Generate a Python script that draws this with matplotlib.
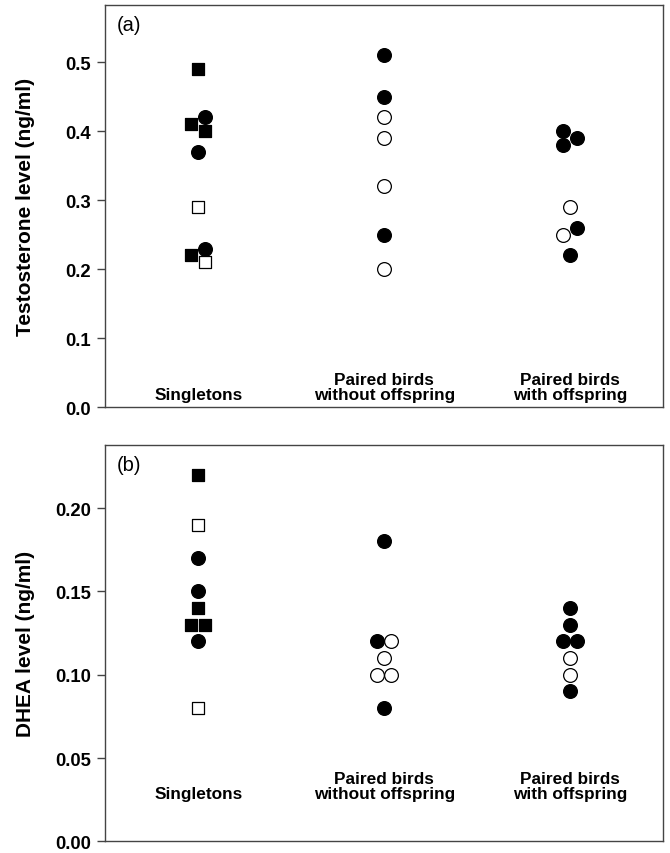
import numpy as np
import matplotlib
matplotlib.use("Agg")
import matplotlib.pyplot as plt

plt.rcParams["font.family"] = ["Liberation Sans", "DejaVu Sans"]

groups = ["Singletons", "Paired birds\nwithout offspring", "Paired birds\nwith offspring"]

# testosterone (ng/ml): group index, value, small horizontal offset, marker, filled
t_group = [0, 0, 0, 0, 0, 0, 0, 0, 0,
           1, 1, 1, 1, 1, 1, 1,
           2, 2, 2, 2, 2, 2, 2]
t_value = [0.49, 0.42, 0.41, 0.40, 0.37, 0.29, 0.23, 0.22, 0.21,
           0.51, 0.45, 0.42, 0.39, 0.32, 0.25, 0.20,
           0.40, 0.39, 0.38, 0.29, 0.26, 0.25, 0.22]
t_offset = [0, 1, -1, 1, 0, 0, 1, -1, 1,
            0, 0, 0, 0, 0, 0, 0,
            -1, 1, -1, 0, 1, -1, 0]
t_marker = ["s", "o", "s", "s", "o", "s", "o", "s", "s",
            "o", "o", "o", "o", "o", "o", "o",
            "o", "o", "o", "o", "o", "o", "o"]
t_filled = [1, 1, 1, 1, 1, 0, 1, 1, 0,
            1, 1, 0, 0, 0, 1, 0,
            1, 1, 1, 0, 1, 0, 1]

# DHEA (ng/ml)
d_group = [0, 0, 0, 0, 0, 0, 0, 0, 0,
           1, 1, 1, 1, 1, 1, 1,
           2, 2, 2, 2, 2, 2, 2]
d_value = [0.22, 0.19, 0.17, 0.15, 0.14, 0.13, 0.13, 0.12, 0.08,
           0.18, 0.12, 0.12, 0.11, 0.10, 0.10, 0.08,
           0.14, 0.13, 0.12, 0.12, 0.11, 0.10, 0.09]
d_offset = [0, 0, 0, 0, 0, -1, 1, 0, 0,
            0, -1, 1, 0, -1, 1, 0,
            0, 0, -1, 1, 0, 0, 0]
d_marker = ["s", "s", "o", "o", "s", "s", "s", "o", "s",
            "o", "o", "o", "o", "o", "o", "o",
            "o", "o", "o", "o", "o", "o", "o"]
d_filled = [1, 0, 1, 1, 1, 1, 1, 1, 0,
            1, 1, 0, 0, 0, 0, 1,
            1, 1, 1, 1, 0, 0, 1]

JIT = 0.038


def draw_panel(ax, grp, val, off, mk, filled, ylim, yticks, ylabel, tag, fmt, label_y):
    for g, v, o, m, f in zip(grp, val, off, mk, filled):
        size = 98 if m == "o" else 84
        ax.scatter(g + 1 + o * JIT, v, marker=m, s=size,
                   facecolor="black" if f else "white",
                   edgecolor="black", linewidth=0.9, zorder=3)
    ax.set_xlim(0.5, 3.5)
    ax.set_ylim(*ylim)
    ax.set_yticks(yticks)
    ax.set_yticklabels([fmt.format(y) for y in yticks], fontweight="bold", fontsize=13.3)
    ax.set_xticks([])
    ax.tick_params(axis="y", direction="out", length=6, width=1, color="#444444", pad=4)
    for sp in ax.spines.values():
        sp.set_color("#444444")
        sp.set_linewidth(1.0)
    ax.set_ylabel(ylabel, fontweight="bold", fontsize=15)
    ax.yaxis.set_label_coords(-0.125, 0.5)
    ax.text(0.02, 0.975, tag, transform=ax.transAxes, ha="left", va="top", fontsize=14.5)
    for i, name in enumerate(groups):
        ax.text(i + 1, label_y, name, ha="center", va="bottom",
                fontweight="bold", fontsize=12.4, linespacing=1.0)


fig = plt.figure(figsize=(6.7, 8.54), dpi=100)
ax1 = fig.add_axes([0.157, 0.522, 0.833, 0.471])
ax2 = fig.add_axes([0.157, 0.0135, 0.833, 0.4645])

draw_panel(ax1, t_group, t_value, t_offset, t_marker, t_filled,
           (0, 0.583), [0.0, 0.1, 0.2, 0.3, 0.4, 0.5],
           "Testosterone level (ng/ml)", "(a)", "{:.1f}", 0.008)
draw_panel(ax2, d_group, d_value, d_offset, d_marker, d_filled,
           (0, 0.238), [0.0, 0.05, 0.10, 0.15, 0.20],
           "DHEA level (ng/ml)", "(b)", "{:.2f}", 0.024)

fig.savefig("out.png", dpi=100)
